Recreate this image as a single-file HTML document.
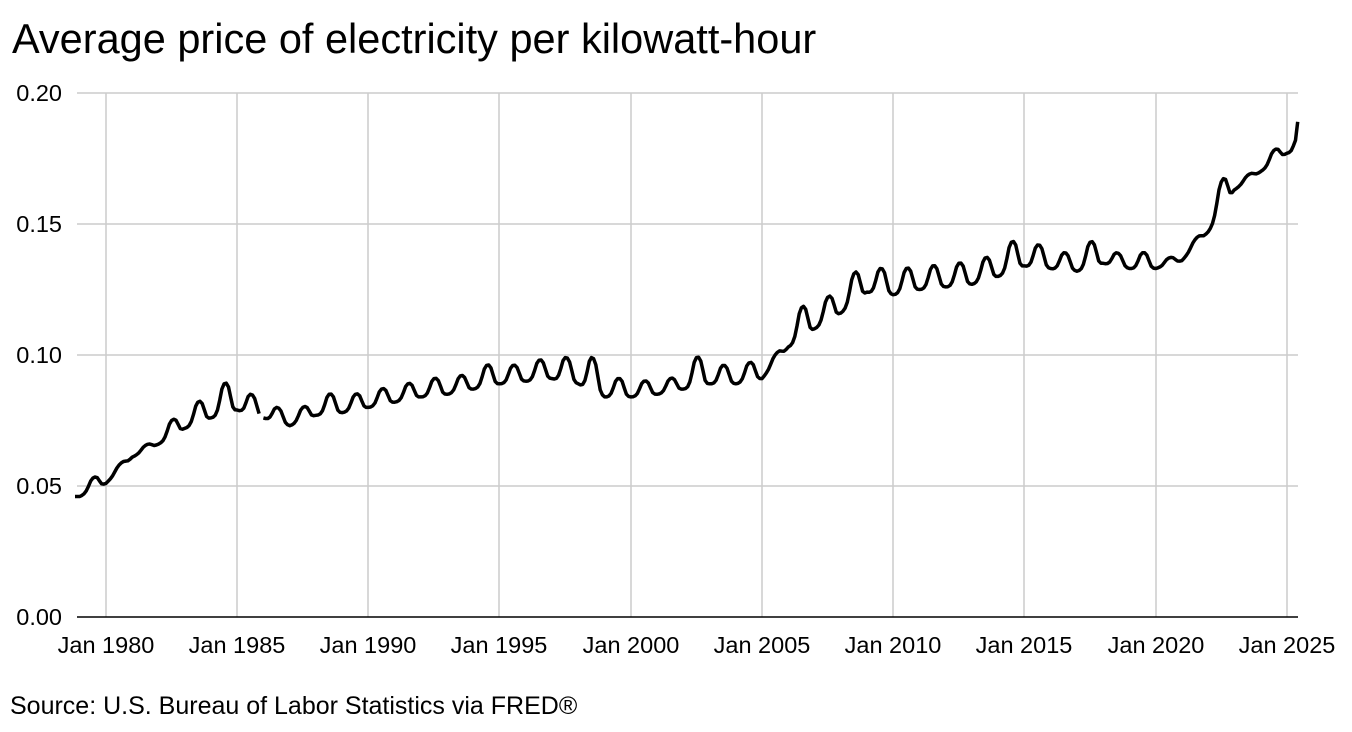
<!DOCTYPE html>
<html><head><meta charset="utf-8"><style>
body{margin:0;background:#fff;font-family:"Liberation Sans",Arial,sans-serif;}
svg{display:block}
</style></head><body>
<svg id="c" width="1352" height="732" xmlns="http://www.w3.org/2000/svg" font-family="Liberation Sans, Arial, sans-serif">
<text x="12" y="53" font-size="41.5" fill="#000">Average price of electricity per kilowatt-hour</text>
<g stroke="#cccccc" stroke-width="1.5">
<line x1="77" y1="93" x2="1298" y2="93"/>
<line x1="77" y1="224" x2="1298" y2="224"/>
<line x1="77" y1="355" x2="1298" y2="355"/>
<line x1="77" y1="486" x2="1298" y2="486"/>
<line x1="106" y1="93" x2="106" y2="617"/>
<line x1="237" y1="93" x2="237" y2="617"/>
<line x1="368" y1="93" x2="368" y2="617"/>
<line x1="499" y1="93" x2="499" y2="617"/>
<line x1="631" y1="93" x2="631" y2="617"/>
<line x1="762" y1="93" x2="762" y2="617"/>
<line x1="893" y1="93" x2="893" y2="617"/>
<line x1="1024" y1="93" x2="1024" y2="617"/>
<line x1="1156" y1="93" x2="1156" y2="617"/>
<line x1="1287" y1="93" x2="1287" y2="617"/>
</g>
<line x1="77" y1="617" x2="1298" y2="617" stroke="#000" stroke-width="1.5"/>
<g font-size="23.5" fill="#000" text-anchor="end">
<text x="62" y="101">0.20</text>
<text x="62" y="232">0.15</text>
<text x="62" y="363">0.10</text>
<text x="62" y="494">0.05</text>
<text x="62" y="625">0.00</text>
</g>
<g font-size="23.5" fill="#000" text-anchor="middle">
<text x="106" y="653">Jan 1980</text>
<text x="237" y="653">Jan 1985</text>
<text x="368" y="653">Jan 1990</text>
<text x="499" y="653">Jan 1995</text>
<text x="631" y="653">Jan 2000</text>
<text x="762" y="653">Jan 2005</text>
<text x="893" y="653">Jan 2010</text>
<text x="1024" y="653">Jan 2015</text>
<text x="1156" y="653">Jan 2020</text>
<text x="1287" y="653">Jan 2025</text>
</g>
<text x="10" y="714" font-size="25" fill="#000">Source: U.S. Bureau of Labor Statistics via FRED®</text>
<path id="p" d="" fill="none" stroke="#000" stroke-width="3.5" stroke-linejoin="round"/>
</svg>
<script>
var D={1979:[.046,.053],1980:[.051,.057],1981:[.061,.065],1982:[.066,.075],1983:[.072,.082],1984:[.076,.089],1985:[.079,.085],1986:[.076,.080],1987:[.073,.080],1988:[.077,.085],1989:[.078,.085],1990:[.080,.087],1991:[.082,.089],1992:[.084,.091],1993:[.085,.092],1994:[.087,.096],1995:[.089,.096],1996:[.090,.098],1997:[.091,.099],1998:[.089,.099],1999:[.084,.091],2000:[.084,.090],2001:[.085,.091],2002:[.087,.099],2003:[.089,.096],2004:[.089,.097],2005:[.091,.100],2006:[.103,.118],2007:[.110,.122],2008:[.116,.131],2009:[.124,.133],2010:[.123,.133],2011:[.125,.134],2012:[.126,.135],2013:[.127,.137],2014:[.130,.143],2015:[.134,.142],2016:[.133,.139],2017:[.132,.143],2018:[.135,.139],2019:[.133,.139],2020:[.133,.137],2021:[.136,.144],2022:[.147,.166],2023:[.163,.168],2024:[.170,.178],2025:[.177,.189],2026:[.18,.19]};
var S=[0,0,.05,.2,.5,.85,1,1,.85,.5,.15,.03];
var d="",first=true;
function X(t){return 106+(t-1980)*26.24}
function Y(v){return 617-v*2620}
for(var y=1979;y<=2025;y++){
 var mid=(D[y][0]+D[y+1][0])/2, amp=Math.max(0.002,D[y][1]-mid);
 for(var m=0;m<12;m++){
  var t=y+m/12; if(t>2025.42)break;
  var b=D[y][0]+(D[y+1][0]-D[y][0])*m/12;
  var v=b+amp*S[m];
  if(y==2025&&m>=4)v=.182+(m-4)*.007;
  var gap=(t>1985.9&&t<1986.05);
  d+=(first||gap?"M":"L")+X(t).toFixed(1)+","+Y(v).toFixed(1)+" ";first=false;
 }
}
d="M75,"+Y(.046).toFixed(1)+" L"+X(1979).toFixed(1)+","+Y(.046).toFixed(1)+" "+d.replace(/^M/,"L");
document.getElementById("p").setAttribute("d",d);
</script>
</body></html>
